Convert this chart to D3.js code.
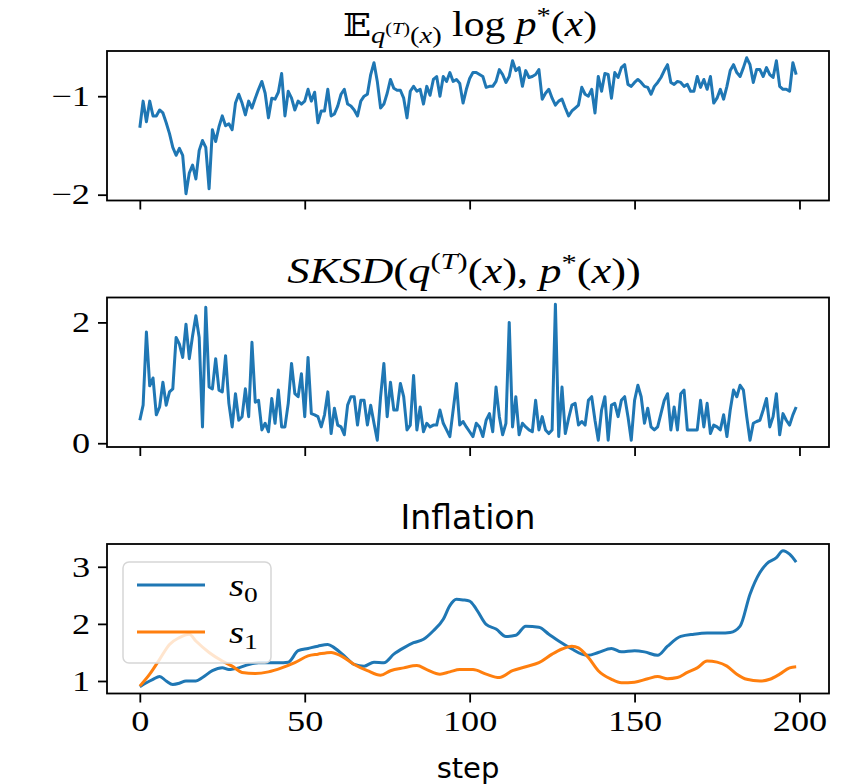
<!DOCTYPE html>
<html>
<head>
<meta charset="utf-8">
<script src="https://cdn.jsdelivr.net/npm/d3@7"></script>
<style>
html,body{margin:0;padding:0;background:#fff;}
svg{display:block;}
</style>
</head>
<body>
<svg id="chart" width="856" height="784"></svg>
<script>
// ---------------- DATA ----------------
const xTicks = [0, 50, 100, 150, 200];

const logpTicks = [-2, -1];
const logpValues = [
-1.32,-1.05,-1.26,-1.05,-1.2,-1.2,-1.14,-1.17,-1.27,-1.38,
-1.52,-1.6,-1.53,-1.6,-1.99,-1.78,-1.7,-1.84,-1.55,-1.45,
-1.52,-1.94,-1.34,-1.46,-1.31,-1.2,-1.3,-1.28,-1.34,-1.07,
-0.98,-1.07,-1.19,-1.05,-1.12,-1.02,-0.93,-0.85,-0.97,-1.22,
-1.02,-1.03,-0.96,-0.77,-1.2,-0.95,-1.02,-1.14,-1.05,-1.08,
-1.05,-0.93,-1.05,-0.96,-1.27,-1.15,-1.15,-0.93,-1.2,-1.18,
-1.1,-0.98,-0.93,-1.08,-1.1,-1.14,-1.2,-1.05,-1.0,-0.98,
-0.78,-0.66,-0.85,-1.12,-1.08,-0.97,-0.83,-0.92,-0.94,-0.94,
-1.02,-1.22,-0.95,-0.9,-0.95,-0.93,-1.08,-0.9,-0.99,-0.83,
-0.8,-1.0,-0.8,-0.85,-0.76,-0.85,-0.83,-0.87,-1.07,-0.93,
-0.82,-0.76,-0.76,-0.78,-0.80,-0.91,-0.90,-0.90,-0.85,-0.73,
-0.78,-0.86,-0.80,-0.64,-0.74,-0.71,-0.90,-0.74,-0.81,-0.80,
-0.78,-0.73,-1.03,-0.97,-0.93,-1.02,-1.09,-1.05,-1.03,-1.12,
-1.20,-1.15,-1.12,-1.09,-0.91,-0.98,-1.0,-0.93,-1.17,-0.80,
-0.95,-0.77,-0.78,-1.02,-0.76,-0.81,-0.71,-0.68,-0.88,-0.90,
-0.86,-0.83,-0.86,-0.90,-0.91,-0.98,-0.90,-0.86,-0.81,-0.74,
-0.68,-0.86,-0.88,-0.85,-0.86,-0.90,-0.88,-0.95,-0.95,-0.80,
-0.91,-0.83,-0.93,-0.80,-1.07,-1.02,-0.93,-1.03,-0.90,-0.74,
-0.68,-0.76,-0.80,-0.71,-0.61,-0.68,-0.86,-0.73,-0.73,-0.80,
-0.71,-0.78,-0.81,-0.64,-0.90,-0.93,-0.93,-0.95,-0.66,-0.78
];

const sksdTicks = [0, 2];
const sksdValues = [
0.38,0.63,1.84,0.95,1.08,0.47,0.60,1.01,0.63,0.85,
0.90,1.75,1.64,1.42,1.97,1.40,1.78,2.11,1.75,0.27,
2.25,0.93,0.90,1.40,0.88,0.85,1.45,0.66,0.27,0.82,
0.38,0.44,0.90,0.44,1.67,0.68,0.71,0.22,0.33,0.19,
0.74,0.33,0.88,0.27,0.27,0.66,1.32,0.82,0.77,1.15,
0.44,1.42,0.49,0.47,0.44,0.27,0.47,0.85,0.16,0.58,
0.30,0.27,0.14,0.63,0.77,0.77,0.30,0.71,0.71,0.30,
0.63,0.33,0.05,0.77,1.32,0.44,1.01,0.55,0.55,0.99,
0.77,0.22,0.30,1.12,0.22,0.60,0.19,0.33,0.27,0.30,
0.30,0.55,0.33,0.22,0.11,0.55,0.99,0.30,0.36,0.27,
0.19,0.11,0.33,0.27,0.11,0.38,0.49,0.19,0.93,0.44,
0.14,0.33,2.00,0.27,0.77,0.14,0.33,0.27,0.22,0.19,
0.71,0.22,0.44,0.22,0.16,0.22,2.30,0.11,0.93,0.16,
0.41,0.63,0.66,0.30,0.36,0.30,0.71,0.77,0.38,0.05,
0.55,0.77,0.05,0.63,0.66,0.44,0.71,0.77,0.44,0.05,
0.71,0.96,0.77,0.33,0.58,0.27,0.22,0.27,0.49,0.71,
0.82,0.22,0.60,0.22,0.82,0.88,0.22,0.22,0.22,0.22,
0.71,0.27,0.66,0.16,0.30,0.27,0.22,0.47,0.11,0.55,
0.88,0.77,0.96,0.88,0.44,0.05,0.33,0.36,0.38,0.55,
0.74,0.27,0.44,0.82,0.14,0.49,0.38,0.30,0.47,0.60
];

const inflTicks = [1, 2, 3];
const s0Steps = [0,2,4,6,8,10,12,14,17,19,22,25,27,30,33,36,39,42,45,48,51,54,57,59,62,65,68,71,74,77,80,83,86,89,92,94,96,98,100,102,105,108,111,114,117,121,124,127,131,134,136,139,143,146,150,153,157,160,164,168,172,176,179,182,185,188,190,193,195,197,199];
const s0Values = [0.90,0.97,1.03,1.08,1.00,0.94,0.96,1.00,1.00,1.06,1.18,1.23,1.20,1.23,1.29,1.32,1.32,1.32,1.33,1.53,1.57,1.61,1.64,1.58,1.44,1.29,1.26,1.33,1.32,1.47,1.58,1.67,1.73,1.88,2.08,2.32,2.43,2.42,2.40,2.26,1.99,1.91,1.78,1.80,1.96,1.94,1.82,1.70,1.56,1.47,1.45,1.50,1.57,1.51,1.53,1.51,1.45,1.61,1.78,1.82,1.84,1.84,1.85,1.96,2.52,2.90,3.05,3.16,3.28,3.22,3.08];
const s1Steps = [0,3,6,9,12,15,17,21,25,28,31,35,39,43,47,51,54,58,61,65,69,73,76,80,84,87,91,94,97,101,105,109,113,117,121,125,128,131,133,136,139,143,146,150,154,157,160,163,166,169,172,175,178,181,184,188,191,194,197,199];
const s1Values = [0.91,1.12,1.38,1.64,1.76,1.82,1.70,1.50,1.35,1.26,1.15,1.13,1.16,1.23,1.32,1.44,1.47,1.50,1.44,1.29,1.18,1.10,1.18,1.23,1.27,1.20,1.12,1.16,1.20,1.20,1.12,1.06,1.18,1.25,1.32,1.47,1.56,1.61,1.58,1.41,1.18,1.03,0.97,0.98,1.04,1.08,1.04,1.06,1.15,1.23,1.35,1.33,1.26,1.12,1.03,1.00,1.03,1.12,1.23,1.25];

const seriesNames = ["s0", "s1"];
const colors = ["#1f77b4", "#ff7f0e"];

// ---------------- LAYOUT ----------------
const svg = d3.select("#chart");
const L = 107, R = 829, PH = 149.5;
const tops = [51, 297.5, 544];
const serif = "'Liberation Serif', 'DejaVu Serif', serif";
const sans = "'DejaVu Sans', sans-serif";
const SX = 1.25; // horizontal widening of serif glyphs (Computer Modern look)

const n = logpValues.length;
const xm = (n - 1) * 0.05;
const x = d3.scaleLinear().domain([-xm, n - 1 + xm]).range([L, R]);

function yScale(vals, top) {
  const e = d3.extent(vals);
  const m = (e[1] - e[0]) * 0.05;
  return d3.scaleLinear().domain([e[0] - m, e[1] + m]).range([top + PH, top]);
}

function styleAxis(g) {
  g.select(".domain").remove();
  g.selectAll(".tick line").attr("stroke", "#000").attr("stroke-width", 1.8);
  g.selectAll(".tick text").attr("font-family", serif).attr("font-size", 29).attr("fill", "#000")
    .each(function() {
      const t = d3.select(this);
      const xv = +t.attr("x") || 0;
      t.attr("x", xv / SX).attr("transform", `scale(${SX},1)`);
    });
}

function drawPanel(top, y, yTicks, showXLabels, fmt) {
  const g = svg.append("g");
  g.append("g").attr("transform", `translate(0,${top + PH})`)
    .call(d3.axisBottom(x).tickValues(xTicks).tickSize(9).tickPadding(8)
      .tickFormat(showXLabels ? d3.format("d") : () => ""))
    .call(styleAxis);
  g.append("g").attr("transform", `translate(${L},0)`)
    .call(d3.axisLeft(y).tickValues(yTicks).tickSize(9).tickPadding(8).tickFormat(fmt))
    .call(styleAxis);
  return g;
}

const fmtInt = d => (d < 0 ? "\u2212" + Math.abs(d) : String(d));

function frame(top) {
  svg.append("rect").attr("x", L).attr("y", top).attr("width", R - L).attr("height", PH)
    .attr("fill", "none").attr("stroke", "#000").attr("stroke-width", 1.8);
}

const LW = 3;

// Panel 1
const y1 = yScale(logpValues, tops[0]);
drawPanel(tops[0], y1, logpTicks, false, fmtInt);
svg.append("path").datum(logpValues)
  .attr("d", d3.line().x((d, i) => x(i)).y(d => y1(d)))
  .attr("fill", "none").attr("stroke", colors[0]).attr("stroke-width", LW).attr("stroke-linejoin", "round");
frame(tops[0]);

// Panel 2
const y2 = yScale(sksdValues, tops[1]);
drawPanel(tops[1], y2, sksdTicks, false, fmtInt);
svg.append("path").datum(sksdValues)
  .attr("d", d3.line().x((d, i) => x(i)).y(d => y2(d)))
  .attr("fill", "none").attr("stroke", colors[0]).attr("stroke-width", LW).attr("stroke-linejoin", "round");
frame(tops[1]);

// Panel 3
const y3 = yScale(s0Values.concat(s1Values), tops[2]);
drawPanel(tops[2], y3, inflTicks, true, fmtInt);
const inflSeries = [
  s0Steps.map((s, i) => [s, s0Values[i]]),
  s1Steps.map((s, i) => [s, s1Values[i]])
];
inflSeries.forEach((pts, k) => {
  svg.append("path").datum(pts)
    .attr("d", d3.line().curve(d3.curveMonotoneX).x(d => x(d[0])).y(d => y3(d[1])))
    .attr("fill", "none").attr("stroke", colors[k]).attr("stroke-width", LW).attr("stroke-linejoin", "round");
});
frame(tops[2]);

// Legend
const lg = svg.append("g");
lg.append("rect").attr("x", 123).attr("y", 562).attr("width", 148).attr("height", 101)
  .attr("rx", 6).attr("fill", "#fff").attr("fill-opacity", 0.8).attr("stroke", "#d6d6d6").attr("stroke-width", 1.5);
seriesNames.forEach((name, k) => {
  const yy = 585 + k * 47;
  lg.append("line").attr("x1", 137).attr("x2", 205).attr("y1", yy).attr("y2", yy)
    .attr("stroke", colors[k]).attr("stroke-width", LW);
  const t = lg.append("text").attr("transform", `translate(229,${yy + 11}) scale(${SX},1)`)
    .attr("font-family", serif).attr("font-size", 31).attr("fill", "#000");
  t.append("tspan").attr("font-style", "italic").text(name[0]);
  t.append("tspan").attr("font-size", 22).attr("dy", 6).text(name.slice(1));
});

// Titles
const cx = (L + R) / 2;
const t1 = svg.append("text").attr("transform", `translate(${cx + 2},36) scale(1.19,1)`).attr("text-anchor", "middle")
  .attr("font-family", serif).attr("font-size", 35).attr("fill", "#000");
t1.append("tspan").attr("font-family", "'DejaVu Serif', 'DejaVu Sans', serif").attr("font-size", 31).text("\u{1D53C}");
t1.append("tspan").attr("font-size", 24).attr("dy", 7).attr("font-style", "italic").text("q");
t1.append("tspan").attr("font-size", 17).attr("dy", -9).text("(");
t1.append("tspan").attr("font-size", 17).attr("font-style", "italic").text("T");
t1.append("tspan").attr("font-size", 17).text(")");
t1.append("tspan").attr("font-size", 24).attr("dy", 9).text("(");
t1.append("tspan").attr("font-size", 24).attr("font-style", "italic").text("x");
t1.append("tspan").attr("font-size", 24).text(")");
t1.append("tspan").attr("dy", -7).text(" log ");
t1.append("tspan").attr("font-style", "italic").text("p");
t1.append("tspan").attr("font-size", 24).attr("dy", -13).text("*");
t1.append("tspan").attr("dy", 13).text("(");
t1.append("tspan").attr("font-style", "italic").text("x");
t1.append("tspan").text(")");

const t2 = svg.append("text").attr("transform", `translate(${cx - 4},283) scale(1.27,1)`).attr("text-anchor", "middle")
  .attr("font-family", serif).attr("font-size", 35).attr("fill", "#000");
t2.append("tspan").attr("font-style", "italic").text("SKSD");
t2.append("tspan").text("(");
t2.append("tspan").attr("font-style", "italic").text("q");
t2.append("tspan").attr("font-size", 24).attr("dy", -14).text("(");
t2.append("tspan").attr("font-size", 24).attr("font-style", "italic").text("T");
t2.append("tspan").attr("font-size", 24).text(")");
t2.append("tspan").attr("dy", 14).text("(");
t2.append("tspan").attr("font-style", "italic").text("x");
t2.append("tspan").text("), ");
t2.append("tspan").attr("font-style", "italic").text("p");
t2.append("tspan").attr("font-size", 24).attr("dy", -13).text("*");
t2.append("tspan").attr("dy", 13).text("(");
t2.append("tspan").attr("font-style", "italic").text("x");
t2.append("tspan").text("))");

svg.append("text").attr("x", cx).attr("y", 529).attr("text-anchor", "middle")
  .attr("font-family", sans).attr("font-size", 33).attr("fill", "#000").text("Inflation");

svg.append("text").attr("x", cx).attr("y", 778).attr("text-anchor", "middle")
  .attr("font-family", sans).attr("font-size", 29).attr("fill", "#000").text("step");
</script>
</body>
</html>
